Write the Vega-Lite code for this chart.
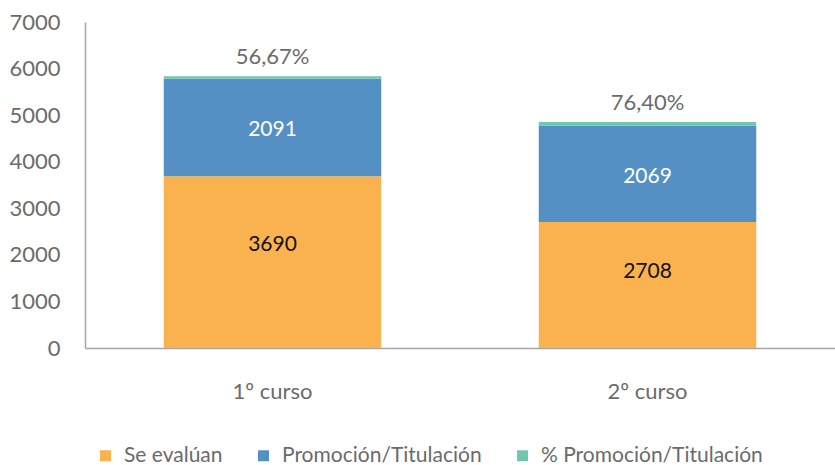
{
  "$schema": "https://vega.github.io/schema/vega-lite/v6.json",
  "width": 750,
  "height": 326,
  "autosize": "none",
  "padding": {"left": 85, "top": 22, "right": 0, "bottom": 117},
  "config": {
    "view": {"stroke": null},
    "font": "Lato",
    "axis": {"labelFont": "Lato", "labelColor": "#6b6b6b", "labelFontSize": 22, "grid": false, "ticks": false, "domainColor": "#a6a6a6", "domainWidth": 1.5, "title": null},
    "legend": {"labelFont": "Lato", "labelColor": "#6b6b6b", "labelFontSize": 21, "labelLimit": 0}
  },
  "data": {
    "values": [
      {"curso": "1º curso", "serie": "Se evalúan", "valor": 3690, "orden": 1, "etiqueta": "3690"},
      {"curso": "1º curso", "serie": "Promoción/Titulación", "valor": 2091, "orden": 2, "etiqueta": "2091"},
      {"curso": "1º curso", "serie": "% Promoción/Titulación", "valor": 56.67, "orden": 3, "etiqueta": "56,67%"},
      {"curso": "2º curso", "serie": "Se evalúan", "valor": 2708, "orden": 1, "etiqueta": "2708"},
      {"curso": "2º curso", "serie": "Promoción/Titulación", "valor": 2069, "orden": 2, "etiqueta": "2069"},
      {"curso": "2º curso", "serie": "% Promoción/Titulación", "valor": 76.40, "orden": 3, "etiqueta": "76,40%"}
    ]
  },
  "encoding": {
    "x": {"field": "curso", "type": "nominal", "scale": {"paddingInner": 0.42, "paddingOuter": 0.21}, "axis": {"labelAngle": 0, "labelPadding": 33}},
    "y": {"field": "valor", "type": "quantitative", "stack": "zero", "scale": {"domain": [0, 7000]}, "axis": {"values": [0,1000,2000,3000,4000,5000,6000,7000], "format": "d", "labelPadding": 25, "labelBaseline": "middle"}},
    "order": {"field": "orden", "type": "quantitative"}
  },
  "layer": [
    {
      "mark": {"type": "bar"},
      "encoding": {
        "color": {"field": "serie", "type": "nominal",
          "scale": {"domain": ["Se evalúan", "Promoción/Titulación", "% Promoción/Titulación"], "range": ["#F9B24E", "#5590C4", "#70C7AE"]},
          "legend": {"title": null, "orient": "none", "direction": "horizontal", "legendX": 10, "legendY": 423, "symbolType": "square", "symbolSize": 120, "symbolStrokeWidth": 0, "columnPadding": 30, "labelOffset": 8}
        }
      }
    },
    {
      "transform": [{"filter": "datum.orden == 1"}],
      "mark": {"type": "text", "fontSize": 21, "baseline": "middle", "color": "#111111"},
      "encoding": {
        "y": {"field": "valor", "type": "quantitative", "stack": "zero", "bandPosition": 0.6},
        "text": {"field": "etiqueta"}
      }
    },
    {
      "mark": {"type": "text", "fontSize": 21, "baseline": "middle", "color": "#ffffff"},
      "encoding": {
        "y": {"field": "valor", "type": "quantitative", "stack": "zero", "bandPosition": 0.47},
        "text": {"condition": {"test": "datum.orden == 2", "field": "etiqueta"}, "value": ""}
      }
    },
    {
      "mark": {"type": "text", "fontSize": 22, "baseline": "middle", "dy": -19, "color": "#6b6b6b"},
      "encoding": {
        "text": {"condition": {"test": "datum.orden == 3", "field": "etiqueta"}, "value": ""}
      }
    }
  ]
}
